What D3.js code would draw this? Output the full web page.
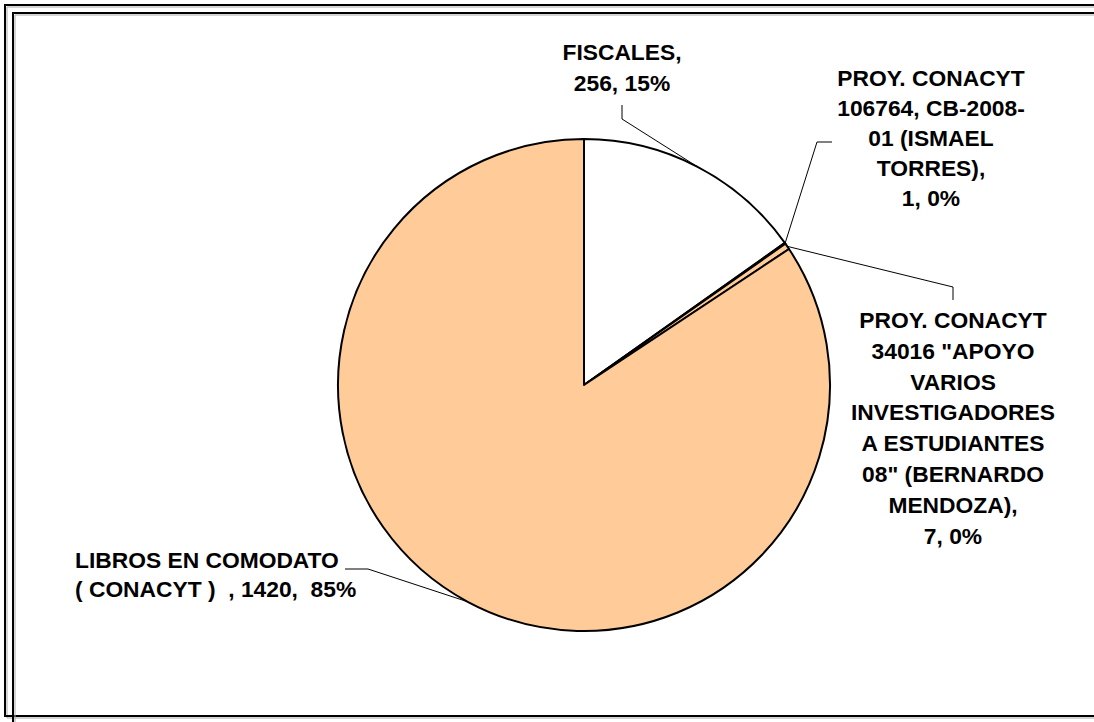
<!DOCTYPE html>
<html lang="es">
<head>
<meta charset="UTF-8">
<title>Libros por origen</title>
<script src="https://cdn.jsdelivr.net/npm/d3@7"></script>
<style>
    body {
        margin: 0;
        background: #fff;
        overflow: hidden;
    }
    svg {
        display: block;
    }
    text {
        font-family: "Liberation Sans", Arial, Helvetica, sans-serif;
        font-weight: bold;
        font-size: 22.8px;
        fill: #000;
    }
</style>
</head>
<body>
<script>
    // data
    var categories = [
        "FISCALES",
        "PROY. CONACYT 106764, CB-2008-01 (ISMAEL TORRES)",
        "PROY. CONACYT 34016 \"APOYO VARIOS INVESTIGADORES A ESTUDIANTES 08\" (BERNARDO MENDOZA)",
        "LIBROS EN COMODATO ( CONACYT )"
    ];
    var values = [256, 1, 7, 1420];
    var labelLines = [
        ["FISCALES,", "256, 15%"],
        ["PROY. CONACYT", "106764, CB-2008-", "01 (ISMAEL", "TORRES),", "1, 0%"],
        ["PROY. CONACYT", "34016 \"APOYO", "VARIOS", "INVESTIGADORES", "A ESTUDIANTES", "08\" (BERNARDO", "MENDOZA),", "7, 0%"],
        ["LIBROS EN COMODATO", "( CONACYT )  , 1420,  85%"]
    ];
    var sliceColors = ["#ffffff", "#ffffff", "#ffcc99", "#ffcc99"];

    // label placement
    var labelPos = [
        {x: 622, y: 60, dy: 31, anchor: "middle", leader: [[622, 105], [622, 119]]},
        {x: 931, y: 86, dy: 30, anchor: "middle", leader: [[832, 142], [817, 142]]},
        {x: 953, y: 328, dy: 30.8, anchor: "middle", leader: [[953, 300], [953, 287]]},
        {x: 75, y: 568, dy: 29, anchor: "start", leader: [[345, 569], [368, 569]]}
    ];

    var width = 1094, height = 722,
        cx = 584, cy = 385, radius = 246;

    var svg = d3.select("body").append("svg")
        .attr("width", width)
        .attr("height", height);

    // frame: only the top and left edges (and the outer bottom) are in view
    var frame = svg.append("g").attr("fill", "none");
    function frameLines(x0, y0, y1, color, w) {
        var p = d3.path();
        p.moveTo(width + 5, y0);
        p.lineTo(x0, y0);
        p.lineTo(x0, y1);
        if (y1 < height) p.lineTo(width + 5, y1);
        frame.append("path")
            .attr("d", p.toString())
            .attr("stroke", color)
            .attr("stroke-width", w);
    }
    frameLines(7, 7, 718, "#aaa", 1);
    frameLines(5, 5, 716, "#000", 2);
    frameLines(15, 15, height + 10, "#aaa", 1);
    frameLines(13, 13, height + 10, "#000", 2);

    var pie = d3.pie().sort(null).value(function (d) { return d; });
    var arcs = pie(values);

    var arc = d3.arc().innerRadius(0).outerRadius(radius);

    var g = svg.append("g")
        .attr("transform", "translate(" + cx + "," + cy + ")");

    g.selectAll("path.slice")
        .data(arcs)
        .enter().append("path")
        .attr("class", "slice")
        .attr("d", arc)
        .attr("fill", function (d, i) { return sliceColors[i]; })
        .attr("stroke", "#000")
        .attr("stroke-width", 2)
        .attr("stroke-linejoin", "round");

    // leader lines to the middle of each slice edge
    var line = d3.line();
    arcs.forEach(function (d, i) {
        var a = (d.startAngle + d.endAngle) / 2;
        var end = [cx + radius * Math.sin(a), cy - radius * Math.cos(a)];
        var pts = labelPos[i].leader.concat([end]);
        svg.append("path")
            .attr("d", line(pts))
            .attr("fill", "none")
            .attr("stroke", "#000")
            .attr("stroke-width", 1);
    });

    // labels
    labelLines.forEach(function (lines, i) {
        var p = labelPos[i];
        var t = svg.append("text")
            .attr("text-anchor", p.anchor)
            .style("white-space", "pre");
        lines.forEach(function (s, k) {
            t.append("tspan")
                .attr("x", p.x)
                .attr("y", p.y + k * p.dy)
                .text(s);
        });
    });
</script>
</body>
</html>
